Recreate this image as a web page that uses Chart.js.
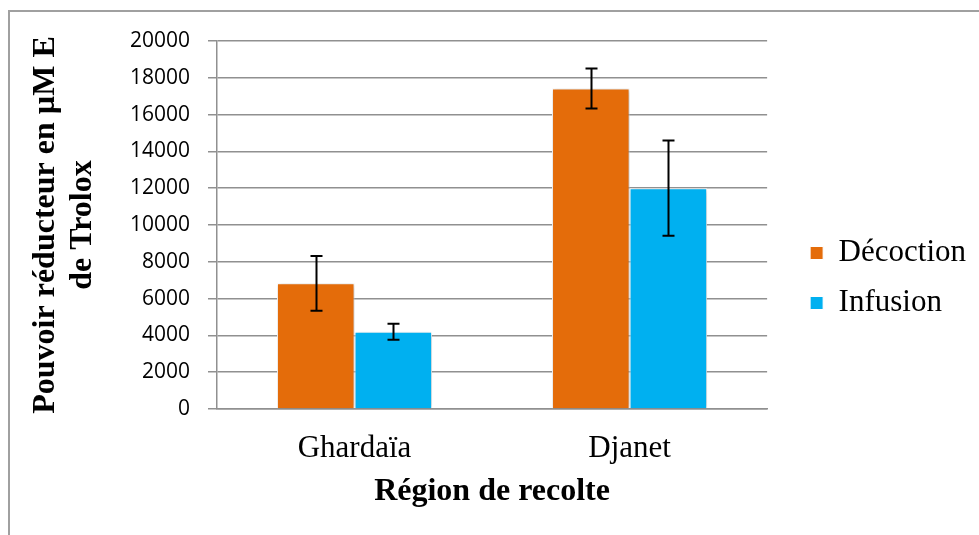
<!DOCTYPE html>
<html lang="fr">
<head>
    <meta charset="UTF-8">
    <title>Pouvoir réducteur</title>
    <script src="https://cdn.jsdelivr.net/npm/chart.js"></script>
    <style>
        body { margin: 0; background: #fff; }
    </style>
</head>
<body>
    <canvas id="myChart" width="979" height="535"></canvas>

    <script>
        // Values
        const regions = ['Ghardaïa', 'Djanet'];
        const decoction = [6830, 17420];
        const decoctionErr = [1490, 1090];
        const infusion = [4200, 12000];
        const infusionErr = [430, 2590];
        const yTicks = [0, 2000, 4000, 6000, 8000, 10000, 12000, 14000, 16000, 18000, 20000];

        const serif = "'Liberation Serif', 'Times New Roman', serif";

        // Grey frame around the figure
        const framePlugin = {
            id: 'frame',
            beforeDraw(chart) {
                const ctx = chart.ctx;
                ctx.save();
                ctx.strokeStyle = '#a0a0a0';
                ctx.lineWidth = 2;
                ctx.beginPath();
                ctx.moveTo(9, 535);
                ctx.lineTo(9, 11);
                ctx.lineTo(979, 11);
                ctx.stroke();
                ctx.restore();
            }
        };

        // Soft shadow behind the bars
        const shadowPlugin = {
            id: 'barShadow',
            beforeDatasetsDraw(chart) {
                const ctx = chart.ctx;
                ctx.save();
                ctx.shadowColor = 'rgba(0,0,0,0.28)';
                ctx.shadowBlur = 5;
                ctx.shadowOffsetX = 1;
                ctx.shadowOffsetY = 1;
            },
            afterDatasetsDraw(chart) {
                chart.ctx.restore();
            }
        };

        // Error bars (value ± err) with caps
        const errorBarPlugin = {
            id: 'errorBars',
            afterDatasetsDraw(chart) {
                const ctx = chart.ctx;
                const y = chart.scales.y;
                ctx.save();
                ctx.strokeStyle = '#000';
                ctx.lineWidth = 2;
                chart.data.datasets.forEach((ds, i) => {
                    const meta = chart.getDatasetMeta(i);
                    meta.data.forEach((bar, j) => {
                        const v = ds.data[j];
                        const e = ds.errors[j];
                        const top = y.getPixelForValue(v + e);
                        const bot = y.getPixelForValue(v - e);
                        const x = Math.round(bar.x) + 0.5;
                        ctx.beginPath();
                        ctx.moveTo(x, top);
                        ctx.lineTo(x, bot);
                        ctx.moveTo(x - 6, top);
                        ctx.lineTo(x + 6, top);
                        ctx.moveTo(x - 6, bot);
                        ctx.lineTo(x + 6, bot);
                        ctx.stroke();
                    });
                });
                ctx.restore();
            }
        };

        const config = {
            type: 'bar',
            data: {
                labels: regions,
                datasets: [{
                    label: 'Décoction',
                    data: decoction,
                    errors: decoctionErr,
                    backgroundColor: '#e46c0a',
                    borderColor: '#ffffff',
                    borderWidth: 1
                }, {
                    label: 'Infusion',
                    data: infusion,
                    errors: infusionErr,
                    backgroundColor: '#00b0f0',
                    borderColor: '#ffffff',
                    borderWidth: 1
                }]
            },
            options: {
                responsive: false,
                animation: false,
                layout: {
                    padding: { top: 41, left: 20, right: 3, bottom: 20 }
                },
                datasets: {
                    bar: { categoryPercentage: 0.564, barPercentage: 1 }
                },
                plugins: {
                    tooltip: { enabled: false },
                    legend: {
                        position: 'right',
                        maxWidth: 230,
                        labels: {
                            boxWidth: 13,
                            boxHeight: 13,
                            padding: 19,
                            color: '#000',
                            font: { family: serif, size: 31 }
                        }
                    }
                },
                scales: {
                    x: {
                        afterFit(scale) {
                            scale.height = 106;
                        },
                        grid: { display: false, drawTicks: false },
                        border: { color: '#909090', width: 1.5 },
                        ticks: {
                            color: '#000',
                            padding: 21,
                            font: { family: serif, size: 31 }
                        },
                        title: {
                            display: true,
                            text: 'Région de recolte',
                            color: '#000',
                            padding: { top: 7, bottom: 4 },
                            font: { family: serif, size: 32, weight: 'bold' }
                        }
                    },
                    y: {
                        min: 0,
                        max: 20000,
                        afterBuildTicks(scale) {
                            scale.ticks = yTicks.map(v => ({ value: v }));
                        },
                        afterFit(scale) {
                            scale.width = 197;
                        },
                        grid: {
                            color: '#909090',
                            lineWidth: 1.5,
                            tickLength: 9
                        },
                        border: { color: '#909090', width: 1.5 },
                        ticks: {
                            color: '#000',
                            padding: 18,
                            font: { family: "'Open Sans', sans-serif", size: 21 },
                            callback: v => String(v)
                        },
                        title: {
                            display: true,
                            text: ['Pouvoir réducteur en µM E', 'de Trolox'],
                            color: '#000',
                            padding: { top: 7, bottom: 0 },
                            font: { family: serif, size: 32, weight: 'bold', lineHeight: 1.16 }
                        }
                    },
                    // empty axis on the right, only keeps a gap before the legend
                    spacer: {
                        type: 'linear',
                        position: 'right',
                        grid: { display: false, drawTicks: false },
                        border: { display: false },
                        ticks: { display: false },
                        afterFit(scale) {
                            scale.width = 24;
                        }
                    }
                }
            },
            plugins: [framePlugin, shadowPlugin, errorBarPlugin]
        };

        const ctx = document.getElementById('myChart').getContext('2d');
        new Chart(ctx, config);
    </script>
</body>
</html>
